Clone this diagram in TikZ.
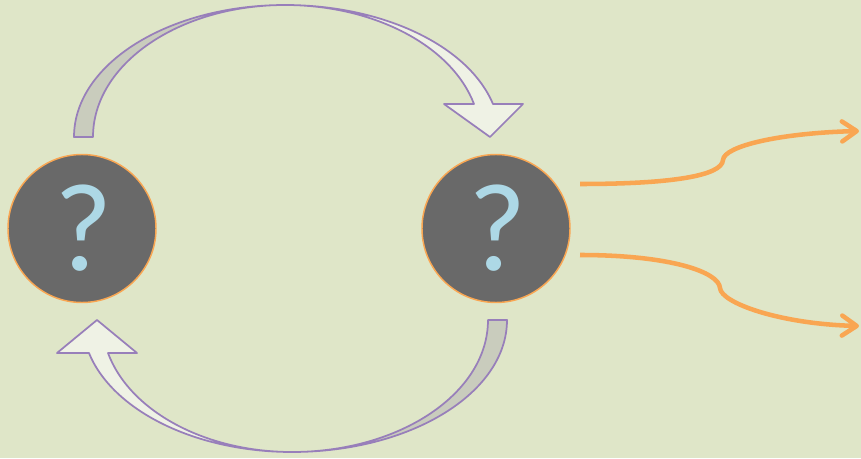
\documentclass[tikz,border=0pt]{standalone}
\usepackage{fontspec}
\newfontfamily\qfont{Carlito}
\usetikzlibrary{arrows.meta}
\definecolor{bggreen}{RGB}{223,230,200}
\definecolor{qgray}{RGB}{105,105,105}
\definecolor{qblue}{RGB}{173,216,230}
\definecolor{ringorange}{RGB}{249,166,82}
\definecolor{bandpurple}{RGB}{152,127,186}
\definecolor{backgray}{RGB}{201,204,189}
\definecolor{frontlight}{RGB}{239,242,229}

\begin{document}
\begin{tikzpicture}[x=.75pt, y=.75pt,
  qnode/.style={circle, fill=qgray, draw=ringorange, line width=1.1pt,
    minimum size=111pt, inner sep=0pt, text=qblue,
    font=\qfont\fontsize{94}{94}\selectfont},
  band/.style={draw=bandpurple, line width=1.3pt, line join=round},
  flow/.style={draw=ringorange, line width=3.4pt,
    -{Straight Barb[round, length=11pt, width=15pt]}}]
  \fill[bggreen] (0,0) rectangle (861,458);
  \useasboundingbox (0,0) rectangle (861,458);

  \node[qnode] (q1) at (82,229.5)  {\kern3pt?};
  \node[qnode] (q2) at (496,229.5) {\kern3pt?};

  \coordinate (up0) at (580,274);
  \coordinate (up1) at (859,327);
  \coordinate (lo0) at (580,203);
  \coordinate (lo1) at (859,132);

  % upper band, q1 to q2
  \draw[band, fill=backgray] (74,321)
    arc[start angle=180, end angle=90, x radius=211, y radius=132]
    arc[start angle=90, end angle=180, x radius=192, y radius=132] -- cycle;
  \draw[band, fill=frontlight] (285,453)
    arc[start angle=90, end angle=14.48, x radius=214.8, y radius=132]
    -- (523,354) -- (490,321) -- (444,354) -- (474,354)
    arc[start angle=14.48, end angle=90, x radius=195.2, y radius=132] -- cycle;

  % lower band, q2 back to q1
  \draw[band, fill=backgray] (507,138)
    arc[start angle=0, end angle=-90, x radius=215, y radius=132]
    arc[start angle=-90, end angle=0, x radius=196, y radius=132] -- cycle;
  \draw[band, fill=frontlight] (292,6)
    arc[start angle=-90, end angle=-165.52, x radius=209.7, y radius=132]
    -- (57,105) -- (97,138) -- (137,105) -- (108,105)
    arc[start angle=-165.52, end angle=-90, x radius=190, y radius=132] -- cycle;

  \draw[flow] (up0) .. controls (670,274) and (722,282) .. (723,298)
    .. controls (724,312) and (780,325) .. (up1);
  \draw[flow] (lo0) .. controls (670,203) and (719,186) .. (720,170)
    .. controls (721,155) and (780,134) .. (lo1);
\end{tikzpicture}
\end{document}
